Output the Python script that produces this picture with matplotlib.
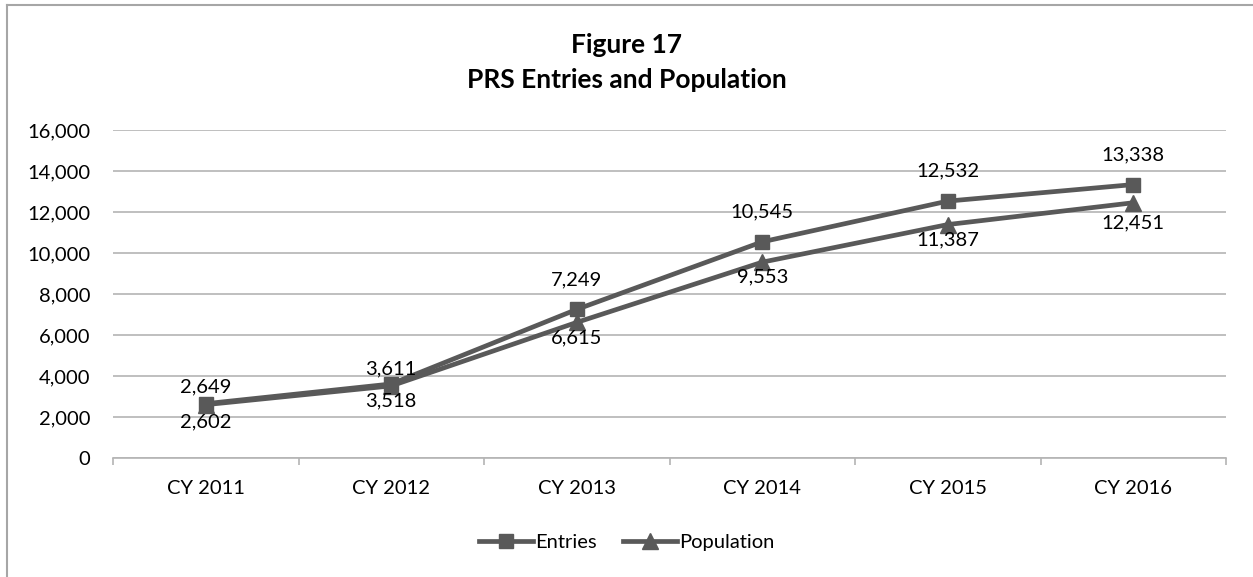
import matplotlib.pyplot as plt
from matplotlib.lines import Line2D
from matplotlib.ticker import FuncFormatter

plt.rcParams["font.family"] = ["Lato", "DejaVu Sans"]

years = ["CY 2011", "CY 2012", "CY 2013", "CY 2014", "CY 2015", "CY 2016"]
entries = [2649, 3611, 7249, 10545, 12532, 13338]
population = [2602, 3518, 6615, 9553, 11387, 12451]

# label distance from the marker (pixels, to the centre of the digits)
entries_gap = [18, 17, 31, 31, 32, 31]
population_gap = [16, 13, 14, 13, 14, 19]

line_color = "#595959"
grid_color = "#b4b4b4"
fs = 14.5
px = 0.72  # points per pixel at dpi 100

fig = plt.figure(figsize=(12.53, 5.77), dpi=100)
ax = fig.add_axes([113 / 1253, 1 - 458 / 577, (1226 - 113) / 1253, (458 - 130) / 577])

x = list(range(len(years)))
ax.plot(x, entries, color=line_color, lw=3.4, marker="s", markersize=10.5, label="Entries")
ax.plot(x, population, color=line_color, lw=3.4, marker="^", markersize=11, label="Population")

half_cap = 7
for i in x:
    ax.annotate(f"{entries[i]:,}", (i, entries[i]),
                xytext=(0, (entries_gap[i] - half_cap) * px), textcoords="offset points",
                ha="center", va="baseline", fontsize=fs, color="black")
    ax.annotate(f"{population[i]:,}", (i, population[i]),
                xytext=(0, -(population_gap[i] + half_cap) * px), textcoords="offset points",
                ha="center", va="baseline", fontsize=fs, color="black")

ax.set_xlim(-0.5, len(years) - 0.5)
ax.set_ylim(0, 16000)
ax.set_yticks(range(0, 16001, 2000))
ax.yaxis.set_major_formatter(FuncFormatter(lambda v, p: f"{int(v):,}"))
ax.set_xticks([i - 0.5 for i in range(len(years) + 1)], minor=False)
ax.set_xticklabels([])
ax.set_xticks(x, minor=True)
ax.set_xticklabels(years, minor=True)
ax.tick_params(axis="x", which="major", length=5, color=grid_color, width=1.2)
ax.tick_params(axis="x", which="minor", length=0, pad=16, labelsize=fs)
ax.tick_params(axis="y", length=0, pad=16.5, labelsize=fs)

ax.grid(axis="y", color=grid_color, lw=1.2)
ax.set_axisbelow(True)
for s in ["top", "right", "left"]:
    ax.spines[s].set_visible(False)
ax.spines["bottom"].set_color(grid_color)
ax.spines["bottom"].set_linewidth(1.2)

fig.text(0.5, 1 - 53 / 577, "Figure 17", ha="center", va="baseline", fontsize=19, fontweight="bold")
fig.text(0.5, 1 - 88 / 577, "PRS Entries and Population", ha="center", va="baseline",
         fontsize=19, fontweight="bold")

fig.legend(loc="center", bbox_to_anchor=(0.5, 1 - 542 / 577), ncol=2, frameon=False,
           fontsize=fs, handlelength=2.7, columnspacing=1.3, handletextpad=0.1)

# chart frame (left and top edges visible)
fig.add_artist(Line2D([7 / 1253, 7 / 1253], [0, 1 - 5 / 577], color="#a6a6a6", lw=1.5))
fig.add_artist(Line2D([7 / 1253, 1], [1 - 5 / 577, 1 - 5 / 577], color="#a6a6a6", lw=1.5))

fig.savefig("out.png", dpi=100)
